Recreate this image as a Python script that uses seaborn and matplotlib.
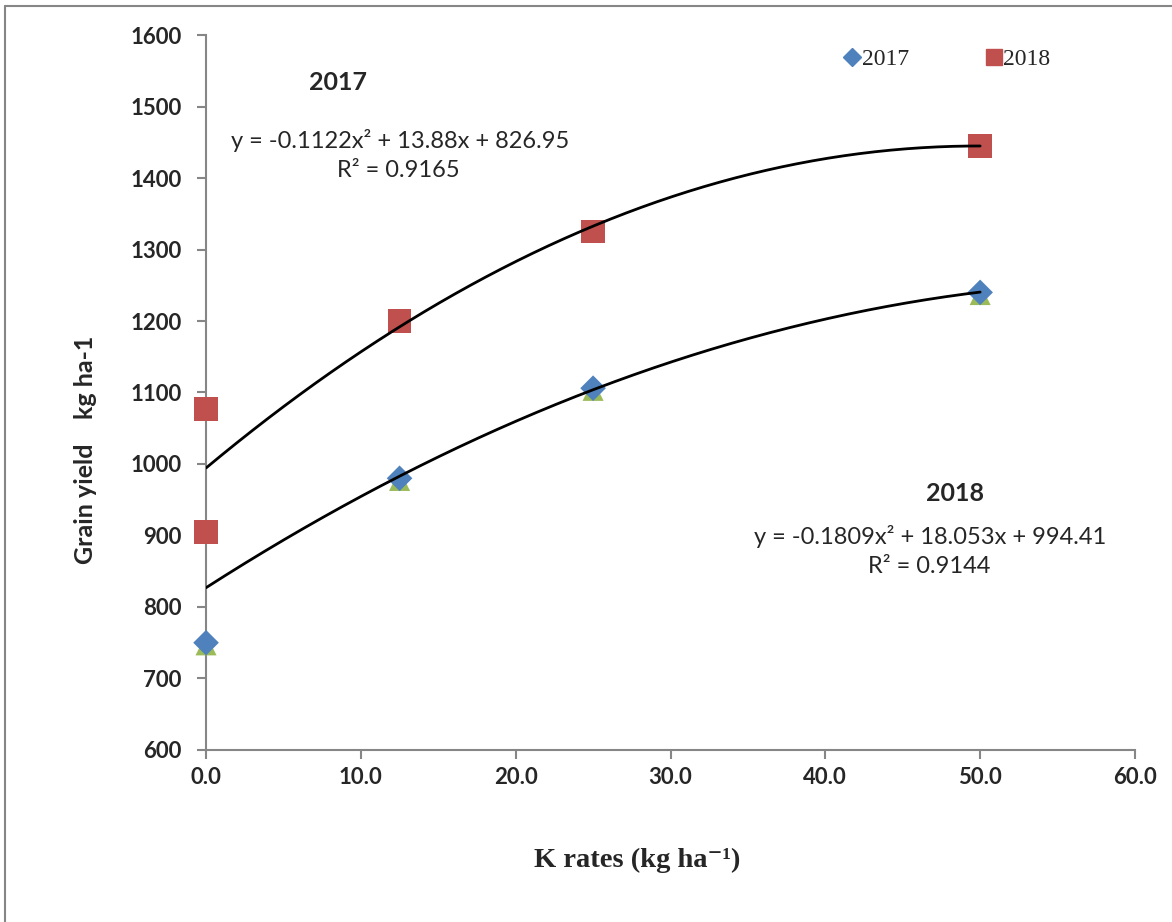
import numpy as np
import pandas as pd
import matplotlib
matplotlib.use("Agg")
import matplotlib.pyplot as plt
import seaborn as sns
from matplotlib.lines import Line2D

# ---- data ----
k_rates = [0.0, 12.5, 25.0, 50.0]
yield_2017 = [750, 980, 1106, 1240]
yield_extra = [747, 977, 1103, 1237]          # green triangles (not in legend)
k_rates_2018 = [0.0, 0.0, 12.5, 25.0, 50.0]
yield_2018 = [1077, 905, 1200, 1325, 1445]

# trendline coefficients as printed on the chart (a, b, c) for y = a x^2 + b x + c
coef_lower = [-0.1122, 13.88, 826.95]
coef_upper = [-0.1809, 18.053, 994.41]

y_ticks = [600, 700, 800, 900, 1000, 1100, 1200, 1300, 1400, 1500, 1600]
x_ticks = [0, 10, 20, 30, 40, 50, 60]

sns.set_theme(style="white")
plt.rcParams['font.family'] = ['Lato', 'DejaVu Sans']

fig = plt.figure(figsize=(11.72, 9.22), dpi=100)
ax = fig.add_axes([0.1758, 0.1866, 0.7926, 0.7754])

df_x = pd.DataFrame({"k": k_rates, "y": yield_extra})
df17 = pd.DataFrame({"k": k_rates, "y": yield_2017})
df18 = pd.DataFrame({"k": k_rates_2018, "y": yield_2018})

sns.scatterplot(data=df_x, x="k", y="y", ax=ax, marker="^", s=230,
                color="#9BBB59", edgecolor="none", zorder=3, clip_on=False, legend=False)
sns.scatterplot(data=df17, x="k", y="y", ax=ax, marker="D", s=170,
                color="#4F81BD", edgecolor="none", zorder=4, clip_on=False, legend=False)
sns.scatterplot(data=df18, x="k", y="y", ax=ax, marker="s", s=290,
                color="#C0504D", edgecolor="none", zorder=4, clip_on=False, legend=False)

xs = np.linspace(0, 50, 200)
for c in (coef_lower, coef_upper):
    sns.lineplot(x=xs, y=np.polyval(c, xs), ax=ax, color="black", lw=2.0,
                 zorder=5, legend=False)

ax.set_xlim(0, 60)
ax.set_ylim(600, 1600)
ax.set_xticks(x_ticks)
ax.set_xticklabels([f"{t:.1f}" for t in x_ticks])
ax.set_yticks(y_ticks)
ax.set_yticklabels([str(t) for t in y_ticks])
for lab in ax.get_xticklabels() + ax.get_yticklabels():
    lab.set_fontweight("bold")
    lab.set_fontsize(16)
ax.tick_params(axis="both", which="both", direction="out", length=6.5, width=1.5,
               color="#868686", bottom=True, left=True, pad=6)
ax.tick_params(axis="y", pad=11)

for s in ("top", "right"):
    ax.spines[s].set_visible(False)
for s in ("left", "bottom"):
    ax.spines[s].set_color("#868686")
    ax.spines[s].set_linewidth(1.5)
ax.grid(False)

ax.set_xlabel("K rates (kg ha⁻¹)", family=["Liberation Serif", "DejaVu Serif"],
              fontsize=20.5, fontweight="bold", va="center")
ax.xaxis.set_label_coords(0.464, -0.154)
ax.set_ylabel("Grain yield    kg ha-1", fontsize=18, fontweight="bold", va="center")
ax.yaxis.set_label_coords((85 - 206) / 929, 0.42)

# annotations
ax.text(0.142, 0.934, "2017", transform=ax.transAxes, fontsize=18, fontweight="bold",
        ha="center", va="center")
ax.text(0.209, 0.852, "y = -0.1122x² + 13.88x + 826.95", transform=ax.transAxes,
        fontsize=17, ha="center", va="center")
ax.text(0.207, 0.810, "R² = 0.9165", transform=ax.transAxes,
        fontsize=17, ha="center", va="center")
ax.text(0.806, 0.359, "2018", transform=ax.transAxes, fontsize=18, fontweight="bold",
        ha="center", va="center")
ax.text(0.779, 0.298, "y = -0.1809x² + 18.053x + 994.41", transform=ax.transAxes,
        fontsize=17, ha="center", va="center")
ax.text(0.779, 0.256, "R² = 0.9144", transform=ax.transAxes,
        fontsize=17, ha="center", va="center")

handles = [Line2D([], [], marker="D", color="#4F81BD", ls="none", markersize=9),
           Line2D([], [], marker="s", color="#C0504D", ls="none", markersize=11)]
leg = ax.legend(handles, ["2017", "2018"], ncol=2, loc="upper left",
                bbox_to_anchor=(0.665, 1.011), frameon=False,
                prop={"family": "Liberation Serif", "size": 17},
                handlelength=0.6, handletextpad=0.1, columnspacing=3.3)

# outer gray frame (partial, as in reference)
fig.add_artist(Line2D([5/1172, 5/1172], [0, 1 - 6/922], transform=fig.transFigure,
                      color="#868686", lw=1.5))
fig.add_artist(Line2D([5/1172, 1], [1 - 6/922, 1 - 6/922], transform=fig.transFigure,
                      color="#868686", lw=1.5))

fig.savefig("out.png", dpi=100)
